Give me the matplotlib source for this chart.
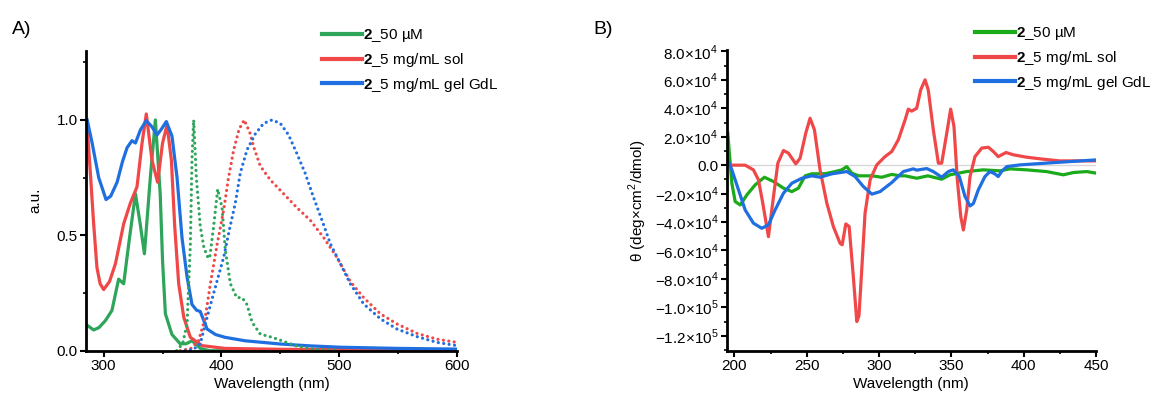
import numpy as np
import matplotlib
matplotlib.use('Agg')
import matplotlib.pyplot as plt
from matplotlib.ticker import MultipleLocator, FuncFormatter
from matplotlib.lines import Line2D

plt.rcParams['font.family'] = ['Liberation Sans', 'DejaVu Sans']
plt.rcParams['mathtext.fontset'] = 'custom'
plt.rcParams['mathtext.rm'] = 'Liberation Sans'
plt.rcParams['mathtext.bf'] = 'Liberation Sans:bold'
plt.rcParams['axes.unicode_minus'] = True

# ---- panel A: normalised absorbance (solid) and emission (dotted)
abs50_nm = [286, 291.5, 296, 301.4, 307, 312.7, 317, 321.2, 327, 331, 334.6, 339.6, 343.9, 348, 350,
            352.4, 358, 365, 370, 375, 379, 382, 390, 600]
abs50_y = [0.11, 0.09, 0.10, 0.13, 0.174, 0.31, 0.29, 0.46, 0.68, 0.55, 0.42, 0.75, 1.0, 0.68, 0.39,
           0.16, 0.07, 0.03, 0.03, 0.043, 0.025, 0.01, 0.0, 0.0]

abssol_nm = [286, 288.7, 291.5, 294.3, 297, 300, 305, 310, 317, 322.7, 328.3, 332.6, 336.2, 341, 345.8,
             350, 353.8, 357.5, 360.3, 363.7, 368, 373.6, 383.5, 403, 450, 600]
abssol_y = [0.97, 0.77, 0.55, 0.36, 0.29, 0.265, 0.30, 0.377, 0.55, 0.64, 0.71, 0.90, 1.026, 0.826, 0.73,
            0.90, 0.978, 0.826, 0.54, 0.29, 0.145, 0.058, 0.022, 0.01, 0.006, 0.003]

absgel_nm = [286, 290.2, 295.8, 302, 306, 311.4, 316, 319.9, 324, 327, 331.2, 336.2, 341, 345.3, 349,
             353.2, 358, 362.3, 366.5, 370.8, 375, 379, 382, 387.8, 395, 403, 420, 450, 475, 501, 550, 600]
absgel_y = [1.0, 0.90, 0.75, 0.655, 0.67, 0.73, 0.82, 0.88, 0.91, 0.90, 0.957, 0.997, 0.97, 0.935, 0.96,
            0.993, 0.93, 0.75, 0.49, 0.32, 0.20, 0.175, 0.17, 0.094, 0.07, 0.058, 0.043, 0.029, 0.021, 0.015,
            0.010, 0.007]

em50_nm = [362, 367, 370.8, 373.6, 375, 376.4, 378.7, 382, 385, 387.8, 390, 393.4, 396.8, 400.5, 403.3,
           407.6, 413, 417.5, 421.7, 426, 433, 443, 451.4, 464, 481, 500]
em50_y = [0.0, 0.03, 0.115, 0.46, 0.83, 1.0, 0.75, 0.54, 0.45, 0.41, 0.40, 0.54, 0.70, 0.62, 0.435,
          0.29, 0.23, 0.23, 0.20, 0.123, 0.072, 0.058, 0.043, 0.02, 0.005, 0.0]

emsol_nm = [365, 374, 380.6, 386.3, 390.6, 396.3, 401.9, 406, 410.4, 415, 419.4, 424.5, 427.3, 433, 441.5,
            452.8, 464, 475.5, 486.8, 498, 509.4, 520.7, 534.9, 549, 566, 583, 600]
emsol_y = [0.0, 0.01, 0.043, 0.145, 0.29, 0.46, 0.61, 0.75, 0.87, 0.96, 1.0, 0.94, 0.884, 0.80, 0.74,
           0.68, 0.62, 0.565, 0.49, 0.405, 0.30, 0.23, 0.16, 0.116, 0.075, 0.05, 0.036]

emgel_nm = [369, 376, 382, 387.8, 394.8, 401.9, 407, 411.8, 416, 421.7, 428.8, 435.8, 443, 450, 457,
            464, 471, 478, 485.4, 492.4, 501, 509.4, 520.7, 535, 549, 566, 583, 600]
emgel_y = [0.0, 0.005, 0.03, 0.145, 0.275, 0.405, 0.53, 0.64, 0.77, 0.87, 0.94, 0.985, 1.0, 0.985, 0.935,
           0.855, 0.77, 0.667, 0.565, 0.464, 0.377, 0.29, 0.203, 0.138, 0.094, 0.061, 0.036, 0.022]

# ---- panel B: CD spectra
cd50_nm = [195.4, 196.3, 198.2, 200.5, 204, 208.6, 214.3, 220.7, 227, 233.9, 239.7, 244.2, 248.9, 253.5,
           262.7, 269.6, 274.2, 277.7, 281.1, 285.8, 295, 301.9, 308.8, 314.5, 318, 326, 333.7, 343.3,
           349, 360.6, 372, 383.6, 390.5, 402, 415.8, 427.4, 434.3, 443.5, 450]
cd50_v = [2.25e4, 1.08e4, -1.27e4, -2.56e4, -2.8e4, -2.09e4, -1.39e4, -0.85e4, -1.15e4, -1.62e4, -1.86e4,
          -1.62e4, -0.75e4, -0.61e4, -0.6e4, -0.45e4, -0.33e4, -0.1e4, -0.56e4, -0.75e4, -0.75e4, -0.85e4,
          -0.65e4, -0.75e4, -0.75e4, -0.92e4, -0.75e4, -0.99e4, -0.68e4, -0.45e4, -0.33e4, -0.4e4, -0.26e4,
          -0.33e4, -0.45e4, -0.68e4, -0.52e4, -0.45e4, -0.56e4]

cdsol_nm = [195.9, 200, 207.4, 213.1, 216.6, 219.6, 223.5, 227, 230, 233.9, 237.3, 242.4, 245.4, 249.3,
            252.3, 255.3, 259.2, 263.9, 268.4, 273, 274.5, 277, 279.3, 282.2, 284.6, 286.1, 288, 290.3,
            293.8, 298.4, 304.1, 308.8, 313.3, 318, 320.2, 322.5, 326, 328.8, 331.8, 334, 337.5, 341,
            343.3, 346.8, 349.5, 351.8, 354.1, 356.5, 358.3, 360.6, 362.9, 366.3, 371, 375.6, 379, 382.4,
            387.8, 392.8, 402, 413.5, 425, 450]
cdsol_v = [0.0, 0.0, 0.0, -0.33e4, -1.03e4, -2.68e4, -5.03e4, -2.2e4, 0.14e4, 1.03e4, 0.85e4, 0.09e4,
           0.49e4, 2.25e4, 3.3e4, 2.49e4, -0.33e4, -2.68e4, -4.32e4, -5.49e4, -5.6e4, -4.13e4, -4.32e4,
           -7.84e4, -1.10e5, -1.06e5, -7.37e4, -3.38e4, -1.03e4, 0.02e4, 0.6e4, 0.96e4, 1.78e4, 3.19e4,
           3.94e4, 3.8e4, 4.0e4, 5.3e4, 6.0e4, 5.3e4, 2.49e4, 0.14e4, 0.14e4, 2.25e4, 3.94e4, 2.72e4,
           -1.03e4, -3.62e4, -4.56e4, -3.15e4, -0.8e4, 0.6e4, 1.2e4, 1.26e4, 0.96e4, 0.6e4, 0.89e4,
           0.73e4, 0.56e4, 0.42e4, 0.3e4, 0.3e4]

cdgel_nm = [195.4, 198.2, 202.8, 207.4, 213.1, 218.9, 223.5, 228.1, 233.9, 239.7, 246.6, 253.5, 259.2,
            267.3, 277.7, 283.4, 289.1, 295, 300.7, 308.8, 316.8, 323.7, 326, 333, 337.5, 343.3, 347.9,
            351.3, 355.5, 359.4, 362.9, 365.2, 368.6, 373.2, 376.7, 380, 382.4, 384.7, 388.3, 397.5,
            418, 450]
cdgel_v = [0.37e4, -0.33e4, -1.74e4, -3.15e4, -4.08e4, -4.44e4, -4.2e4, -3.15e4, -1.97e4, -1.27e4,
           -0.92e4, -0.75e4, -0.85e4, -0.61e4, -0.45e4, -0.8e4, -1.5e4, -2.04e4, -1.86e4, -1.22e4,
           -0.45e4, -0.26e4, -0.35e4, -0.24e4, -0.45e4, -0.85e4, -0.45e4, -0.33e4, -0.8e4, -2.2e4,
           -2.87e4, -2.7e4, -1.74e4, -0.8e4, -0.45e4, -0.61e4, -0.8e4, -0.45e4, -0.1e4, 0.02e4,
           0.16e4, 0.37e4]

labels = [r'$\mathbf{2}$_50 µM', r'$\mathbf{2}$_5 mg/mL sol', r'$\mathbf{2}$_5 mg/mL gel GdL']

green_a = '#2ea55a'
green_b = '#1aaa1a'
red = '#f04848'
blue = '#1f6fe0'
lw = 2.3
dots = (0, (0.01, 1.7))

fig = plt.figure(figsize=(11.52, 4.01), dpi=100)
axA = fig.add_axes([86 / 1152, 1 - 350.7 / 401, (457 - 86) / 1152, 300 / 401])
axB = fig.add_axes([726.5 / 1152, 1 - 350.7 / 401, (1096 - 726.5) / 1152, 300.7 / 401])


def style(ax):
    for s in ['top', 'right']:
        ax.spines[s].set_visible(False)
    for s in ['left', 'bottom']:
        ax.spines[s].set_linewidth(2)
    ax.tick_params(which='major', direction='out', length=4, width=1.5, labelsize=11, pad=2)
    ax.tick_params(which='minor', direction='out', length=2.5, width=1.2)


# panel A
axA.plot(abs50_nm, abs50_y, color=green_a, lw=lw)
axA.plot(abssol_nm, abssol_y, color=red, lw=lw)
axA.plot(absgel_nm, absgel_y, color=blue, lw=lw)
for xs, ys, c in [(em50_nm, em50_y, green_a), (emsol_nm, emsol_y, red), (emgel_nm, emgel_y, blue)]:
    axA.plot(xs, ys, color=c, lw=lw, linestyle=dots, dash_capstyle='round')
axA.set_xlim(285, 600)
axA.set_ylim(0, 1.3)
axA.xaxis.set_major_locator(MultipleLocator(100))
axA.xaxis.set_minor_locator(MultipleLocator(50))
axA.yaxis.set_major_locator(MultipleLocator(0.5))
axA.yaxis.set_minor_locator(MultipleLocator(0.25))
axA.yaxis.set_major_formatter(FuncFormatter(lambda v, p: f'{v:.1f}'))
style(axA)
axA.set_xlabel('Wavelength (nm)', fontsize=11, labelpad=3)
axA.set_ylabel('a.u.', fontsize=11, labelpad=10)

# panel B
axB.axhline(0, color='#d8d8d8', lw=1, zorder=0)
axB.plot(cd50_nm, cd50_v, color=green_b, lw=lw)
axB.plot(cdsol_nm, cdsol_v, color=red, lw=lw)
axB.plot(cdgel_nm, cdgel_v, color=blue, lw=lw)
axB.set_xlim(194.5, 450)
axB.set_ylim(-1.305e5, 8.1e4)
axB.xaxis.set_major_locator(MultipleLocator(50))
axB.xaxis.set_minor_locator(MultipleLocator(25))
axB.yaxis.set_major_locator(MultipleLocator(2e4))
axB.yaxis.set_minor_locator(MultipleLocator(1e4))


def sci(v, pos):
    if abs(v) < 1:
        return '0.0'
    e = int(np.floor(np.log10(abs(v)) + 1e-9))
    m = v / 10 ** e
    return f'{m:.1f}×10$^{e}$'.replace('-', '−')


axB.yaxis.set_major_formatter(FuncFormatter(sci))
style(axB)
axB.set_xlabel('Wavelength (nm)', fontsize=11, labelpad=3)
axB.set_ylabel('θ (deg×cm$^2$/dmol)', fontsize=11, labelpad=4)

# legends
handlesA = [Line2D([], [], color=c, lw=3) for c in [green_a, red, blue]]
handlesB = [Line2D([], [], color=c, lw=3) for c in [green_b, red, blue]]
fig.legend(handlesA, labels, loc='upper left', bbox_to_anchor=(322 / 1152, 1 - 27 / 401),
           frameon=False, fontsize=11, handlelength=2.6, handletextpad=0.1, labelspacing=0.45,
           borderpad=0, borderaxespad=0)
fig.legend(handlesB, labels, loc='upper left', bbox_to_anchor=(975 / 1152, 1 - 25 / 401),
           frameon=False, fontsize=11, handlelength=2.6, handletextpad=0.1, labelspacing=0.45,
           borderpad=0, borderaxespad=0)

fig.text(12 / 1152, 1 - 30 / 401, 'A)', fontsize=14, va='center', ha='left')
fig.text(593 / 1152, 1 - 30 / 401, 'B)', fontsize=14, va='center', ha='left')

fig.savefig('out.png', dpi=100)
